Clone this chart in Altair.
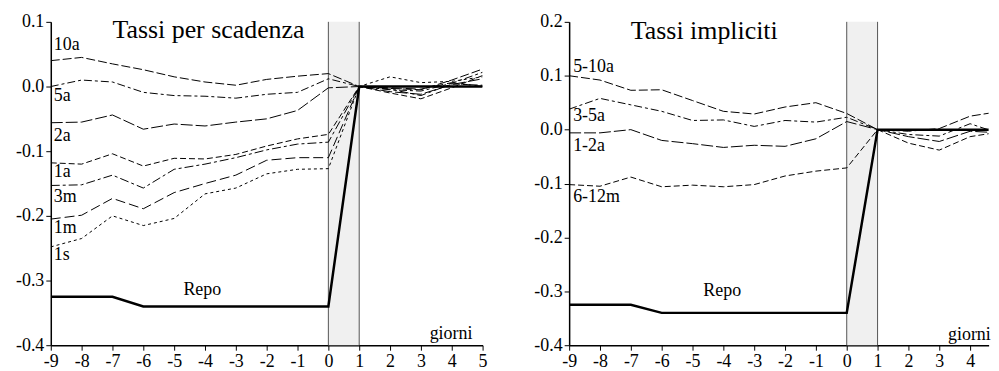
import altair as alt
import pandas as pd

FONT = "Liberation Serif"

days = list(range(-9, 6))

# ---- Left panel: Tassi per scadenza ----
left_names = ["10a", "5a", "2a", "1a", "3m", "1m", "1s"]
left_vals = {
    "10a": [0.040, 0.045, 0.035, 0.026, 0.015, 0.007, 0.002, 0.011, 0.016, 0.020, 0.0, -0.003, -0.005, 0.010, 0.027],
    "5a":  [0.000, 0.010, 0.007, -0.009, -0.014, -0.015, -0.018, -0.012, -0.009, 0.012, 0.0, -0.005, -0.007, 0.005, 0.022],
    "2a":  [-0.056, -0.055, -0.044, -0.066, -0.058, -0.061, -0.055, -0.050, -0.037, -0.002, 0.0, -0.008, -0.012, 0.003, 0.012],
    "1a":  [-0.118, -0.120, -0.104, -0.123, -0.111, -0.112, -0.105, -0.092, -0.081, -0.074, 0.0, -0.010, -0.019, -0.002, 0.017],
    "3m":  [-0.153, -0.152, -0.137, -0.157, -0.128, -0.120, -0.110, -0.098, -0.089, -0.086, 0.0, -0.004, -0.014, 0.004, 0.002],
    "1m":  [-0.205, -0.199, -0.173, -0.189, -0.164, -0.150, -0.137, -0.114, -0.110, -0.110, 0.0, -0.002, -0.004, 0.006, 0.000],
    "1s":  [-0.248, -0.235, -0.200, -0.215, -0.204, -0.166, -0.157, -0.135, -0.128, -0.127, 0.0, 0.015, 0.006, 0.008, 0.015],
}
left_dashes = [[9, 3], [8, 3, 3, 3], [12, 3], [6, 3], [9, 3, 3, 3], [10, 4], [3, 3]]

repo = [-0.325, -0.325, -0.325, -0.34, -0.34, -0.34, -0.34, -0.34, -0.34, -0.34, 0.0, 0.0, 0.0, 0.0, 0.0]

left_label_text = ["10a", "5a", "2a", "1a", "3m", "1m", "1s", "Repo"]
left_label_x = [-8.9, -8.9, -8.9, -8.9, -8.9, -8.9, -8.9, -4.7]
left_label_y = [0.056, -0.023, -0.084, -0.140, -0.178, -0.227, -0.268, -0.322]
left_yticks = [-0.4, -0.3, -0.2, -0.1, 0.0, 0.1]
left_ydomain = [-0.4, 0.1]
left_xdomain = [-9, 5]
left_title = "Tassi per scadenza"
left_title_y = 0.0754

# ---- Right panel: Tassi impliciti ----
right_names = ["5-10a", "3-5a", "1-2a", "6-12m"]
right_vals = {
    "5-10a": [0.100, 0.092, 0.073, 0.074, 0.054, 0.034, 0.029, 0.042, 0.050, 0.030, 0.0, -0.003, 0.002, 0.025, 0.034],
    "3-5a":  [0.038, 0.058, 0.046, 0.034, 0.017, 0.018, 0.006, 0.017, 0.014, 0.023, 0.0, -0.009, -0.012, 0.011, -0.008],
    "1-2a":  [-0.006, -0.006, 0.000, -0.020, -0.026, -0.033, -0.029, -0.031, -0.017, 0.015, 0.0, -0.013, -0.022, -0.003, -0.006],
    "6-12m": [-0.102, -0.105, -0.088, -0.106, -0.103, -0.106, -0.102, -0.086, -0.077, -0.071, 0.0, -0.025, -0.038, -0.013, -0.004],
}
right_dashes = [[7, 3], [9, 3, 3, 3], [7, 3], [3, 2]]

right_label_text = ["5-10a", "3-5a", "1-2a", "6-12m", "Repo"]
right_label_x = [-8.87, -8.87, -8.87, -8.87, -4.65]
right_label_y = [0.1076, 0.0153, -0.040, -0.134, -0.309]
right_yticks = [-0.4, -0.3, -0.2, -0.1, 0.0, 0.1, 0.2]
right_ydomain = [-0.4, 0.2]
right_xdomain = [-9, 4.6]   # the reference crops this panel at the page edge
right_title = "Tassi impliciti"
right_title_y = 0.169

band_start = [0]
band_end = [1]
xlabel_text = ["giorni"]
xlabel_x = [4.67]
xlabel_y = [-0.391]
title_x = -7.0

PX_PER_DAY = 31
H = 325


def panel(names, vals, dashes, xdomain, ydomain, yticks, lab_text, lab_x, lab_y, title_text, title_y):
    rows = []
    for n in names:
        for d, v in zip(days, vals[n]):
            rows.append({"series": n, "day": d, "value": v})
    df = pd.DataFrame(rows)
    repo_df = pd.DataFrame({"day": days, "value": repo})
    band_df = pd.DataFrame({"x0": band_start, "x1": band_end})
    edge_df = pd.DataFrame({"x": band_start + band_end})
    lab_df = pd.DataFrame({"text": lab_text, "x": lab_x, "y": lab_y})
    title_df = pd.DataFrame({"text": [title_text], "x": [title_x], "y": [title_y]})
    gx_df = pd.DataFrame({"text": xlabel_text, "x": xlabel_x, "y": xlabel_y})

    xs = alt.Scale(domain=xdomain, nice=False, zero=False)
    ys = alt.Scale(domain=ydomain, nice=False, zero=False)
    xaxis = alt.Axis(values=[d for d in days if d <= xdomain[1]], title=None, labelOverlap=False,
                     labelFlush=False, labelFont=FONT, labelFontSize=18,
                     labelExpr="replace(format(datum.value, 'd'), '\u2212', '-')")
    yaxis = alt.Axis(values=yticks, title=None, labelOverlap=False, labelFlush=False,
                     labelFont=FONT, labelFontSize=18,
                     labelExpr="replace(format(datum.value, '.1f'), '\u2212', '-')")

    def X(field):
        return alt.X(field, scale=xs, axis=xaxis)

    def Y(field):
        return alt.Y(field, scale=ys, axis=yaxis)

    band = alt.Chart(band_df).mark_rect(color="#f0f0f0").encode(
        x=X("x0:Q"), x2="x1:Q")
    edges = alt.Chart(edge_df).mark_rule(color="#555555", strokeWidth=1).encode(x=X("x:Q"))
    lines = alt.Chart(df).mark_line(color="black", strokeWidth=1, clip=True).encode(
        x=X("day:Q"),
        y=Y("value:Q"),
        detail="series:N",
        strokeDash=alt.StrokeDash("series:N", scale=alt.Scale(domain=names, range=dashes), legend=None),
    )
    repo_line = alt.Chart(repo_df).mark_line(color="black", strokeWidth=2.5, clip=True).encode(
        x=X("day:Q"), y=Y("value:Q"))
    labels = alt.Chart(lab_df).mark_text(align="left", baseline="alphabetic", font=FONT,
                                         fontSize=18, color="black").encode(
        x=X("x:Q"), y=Y("y:Q"), text="text:N")
    title = alt.Chart(title_df).mark_text(align="left", baseline="alphabetic", font=FONT,
                                          fontSize=26, color="black").encode(
        x=X("x:Q"), y=Y("y:Q"), text="text:N")
    gx = alt.Chart(gx_df).mark_text(align="right", baseline="alphabetic", font=FONT,
                                    fontSize=18, color="black").encode(
        x=X("x:Q"), y=Y("y:Q"), text="text:N")
    width = (xdomain[1] - xdomain[0]) * PX_PER_DAY
    return alt.layer(band, edges, lines, repo_line, labels, title, gx).properties(width=width, height=H)


left = panel(left_names, left_vals, left_dashes, left_xdomain, left_ydomain, left_yticks,
             left_label_text, left_label_x, left_label_y, left_title, left_title_y)
right = panel(right_names, right_vals, right_dashes, right_xdomain, right_ydomain, right_yticks,
              right_label_text, right_label_x, right_label_y, right_title, right_title_y)

chart = alt.hconcat(left, right, spacing=46).properties(
    padding={"left": 7, "top": 4, "right": 0, "bottom": 0}
).configure_view(stroke=None).configure_axis(
    grid=False,
    domainColor="black", domainWidth=1.5,
    tickColor="black", tickSize=5, tickWidth=1,
    labelColor="black", labelFont=FONT, labelFontSize=18, labelPadding=2,
)

chart.save("out.html", embed_options={"renderer": "svg", "actions": False})
